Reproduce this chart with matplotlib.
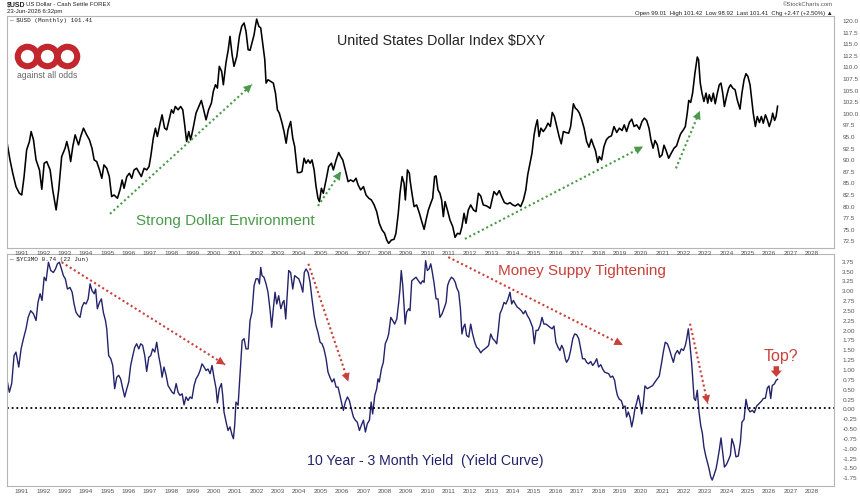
import matplotlib
matplotlib.use('Agg')
import matplotlib.pyplot as plt
from matplotlib.ticker import FormatStrFormatter

# US Dollar Index, monthly (decimal year, close)
dxy_t = [1990.33, 1990.45, 1990.58, 1990.73, 1990.89, 1991.0, 1991.11, 1991.23, 1991.36, 1991.44, 1991.55,
         1991.67, 1991.83, 1991.94, 1992.05, 1992.17, 1992.33, 1992.45, 1992.61, 1992.73, 1992.87, 1993.03,
         1993.11, 1993.22, 1993.29, 1993.39, 1993.5, 1993.66, 1993.76, 1993.89, 1994.04, 1994.17, 1994.29,
         1994.39, 1994.51, 1994.64, 1994.75, 1994.85, 1994.98, 1995.1, 1995.21, 1995.32, 1995.48, 1995.6,
         1995.7, 1995.79, 1995.92, 1996.04, 1996.15, 1996.26, 1996.38, 1996.51, 1996.6, 1996.73, 1996.85,
         1996.96, 1997.04, 1997.16, 1997.26, 1997.35, 1997.48, 1997.57, 1997.69, 1997.79, 1997.88, 1998.01,
         1998.1, 1998.19, 1998.32, 1998.44, 1998.54, 1998.62, 1998.72, 1998.82, 1998.91, 1999.04, 1999.16,
         1999.29, 1999.41, 1999.5, 1999.63, 1999.75, 1999.88, 1999.97, 2000.07, 2000.16, 2000.25, 2000.36,
         2000.44, 2000.56, 2000.67, 2000.75, 2000.85, 2000.94, 2001.07, 2001.19, 2001.3, 2001.41, 2001.5,
         2001.6, 2001.69, 2001.78, 2001.88, 2001.94, 2002.0, 2002.1, 2002.19, 2002.28, 2002.38, 2002.44,
         2002.53, 2002.66, 2002.78, 2002.88, 2002.97, 2003.06, 2003.19, 2003.28, 2003.38, 2003.47, 2003.59,
         2003.69, 2003.78, 2003.91, 2004.03, 2004.12, 2004.22, 2004.31, 2004.41, 2004.5, 2004.59, 2004.69,
         2004.78, 2004.87, 2004.94, 2005.03, 2005.12, 2005.25, 2005.37, 2005.5, 2005.59, 2005.72, 2005.84,
         2005.93, 2006.03, 2006.15, 2006.28, 2006.4, 2006.53, 2006.65, 2006.75, 2006.87, 2007.0, 2007.12,
         2007.25, 2007.37, 2007.5, 2007.62, 2007.74, 2007.87, 2007.99, 2008.09, 2008.18, 2008.31, 2008.43,
         2008.52, 2008.63, 2008.71, 2008.81, 2008.9, 2008.96, 2009.06, 2009.15, 2009.18, 2009.27, 2009.37,
         2009.49, 2009.62, 2009.73, 2009.84, 2009.93, 2010.04, 2010.15, 2010.24, 2010.33, 2010.4, 2010.49,
         2010.58, 2010.66, 2010.74, 2010.82, 2010.93, 2011.05, 2011.18, 2011.29, 2011.4, 2011.52, 2011.61,
         2011.71, 2011.8, 2011.91, 2012.02, 2012.15, 2012.27, 2012.38, 2012.49, 2012.61, 2012.77, 2012.93,
         2013.02, 2013.11, 2013.24, 2013.36, 2013.47, 2013.6, 2013.74, 2013.86, 2013.99, 2014.11, 2014.24,
         2014.36, 2014.49, 2014.6, 2014.69, 2014.8, 2014.89, 2014.99, 2015.06, 2015.14, 2015.22, 2015.31,
         2015.42, 2015.53, 2015.64, 2015.75, 2015.84, 2015.94, 2016.05, 2016.16, 2016.26, 2016.36, 2016.48,
         2016.61, 2016.7, 2016.83, 2016.92, 2017.01, 2017.11, 2017.22, 2017.33, 2017.45, 2017.56, 2017.67,
         2017.76, 2017.86, 2017.97, 2018.04, 2018.15, 2018.26, 2018.37, 2018.48, 2018.61, 2018.73, 2018.86,
         2018.98, 2019.11, 2019.21, 2019.32, 2019.45, 2019.56, 2019.67, 2019.79, 2019.92, 2020.04, 2020.15,
         2020.26, 2020.37, 2020.46, 2020.56, 2020.65, 2020.76, 2020.87, 2020.98, 2021.07, 2021.17, 2021.29,
         2021.41, 2021.54, 2021.66, 2021.76, 2021.85, 2021.98, 2022.07, 2022.16, 2022.23, 2022.32, 2022.41,
         2022.52, 2022.63, 2022.69, 2022.77, 2022.85, 2022.94, 2023.04, 2023.12, 2023.19, 2023.29, 2023.38,
         2023.47, 2023.57, 2023.66, 2023.74, 2023.82, 2023.9, 2024.0, 2024.1, 2024.19, 2024.29, 2024.4,
         2024.5, 2024.63, 2024.72, 2024.82, 2024.91, 2025.0, 2025.1, 2025.18, 2025.25, 2025.35, 2025.44,
         2025.54, 2025.63, 2025.72, 2025.82, 2025.91, 2026.0, 2026.1, 2026.16, 2026.25, 2026.32, 2026.39]
dxy_v = [93.07, 89.83, 86.95, 84.07, 82.63, 82.27, 86.24, 92.0, 93.79, 95.95, 94.15,
         89.83, 87.67, 83.5, 89.1, 89.47, 87.67, 83.35, 79.04, 83.35, 90.55, 92.35,
         93.79, 91.63, 89.47, 92.71, 95.23, 93.07, 94.87, 96.67, 95.23, 94.15, 92.35,
         89.83, 89.47, 87.67, 85.87, 88.75, 88.03, 86.24, 81.92, 82.27, 81.56, 83.35,
         85.51, 83.71, 86.24, 86.95, 85.87, 87.67, 88.03, 86.95, 86.24, 88.03, 87.67,
         88.39, 90.55, 94.51, 96.67, 94.87, 97.75, 99.55, 96.67, 96.31, 98.11, 100.63,
         99.91, 101.35, 100.63, 101.35, 100.63, 97.75, 93.79, 95.95, 94.15, 97.03, 99.91,
         101.35, 102.65, 100.99, 98.47, 100.63, 102.07, 104.59, 106.03, 105.31, 110.0, 108.91,
         106.03, 110.71, 113.59, 116.47, 112.51, 110.0, 112.15, 116.47, 118.63, 119.35, 117.55,
         113.59, 113.45, 115.03, 116.83, 118.63, 120.2, 118.63, 118.27, 115.03, 111.43, 106.39,
         107.11, 106.75, 106.39, 104.23, 100.63, 99.91, 97.75, 95.95, 93.43, 96.31, 98.11,
         94.51, 92.71, 87.1, 87.1, 87.31, 90.19, 89.11, 89.83, 89.11, 89.83, 87.67,
         84.07, 81.56, 80.84, 83.71, 82.63, 85.51, 88.39, 89.11, 87.67, 89.83, 91.42,
         90.55, 89.83, 87.67, 85.15, 85.51, 85.15, 85.87, 84.43, 83.35, 84.07, 82.27,
         81.56, 81.2, 80.12, 78.68, 76.16, 74.72, 74.0, 72.56, 71.84, 72.56, 72.7,
         74.0, 78.32, 82.63, 86.24, 84.79, 81.2, 87.67, 86.95, 85.51, 82.63, 79.76,
         80.12, 78.32, 76.52, 74.86, 76.88, 79.04, 80.48, 81.56, 86.24, 86.38, 83.35,
         82.63, 81.2, 77.6, 80.84, 79.04, 76.88, 75.44, 73.13, 74.0, 73.85, 75.44,
         78.32, 76.16, 79.04, 80.12, 79.04, 78.68, 82.63, 82.06, 80.12, 79.9, 79.4,
         81.2, 83.0, 82.27, 83.21, 81.92, 80.62, 80.33, 80.62, 80.12, 79.9, 80.33,
         79.76, 81.2, 83.35, 86.6, 89.11, 91.27, 95.23, 97.03, 98.47, 94.87, 96.67,
         95.95, 96.67, 97.75, 97.03, 100.06, 99.19, 97.03, 94.87, 93.29, 95.95, 95.74,
         95.59, 97.03, 101.93, 100.99, 100.63, 99.91, 98.47, 96.67, 93.79, 92.57, 94.3,
         93.07, 91.85, 89.26, 90.55, 89.83, 92.71, 94.15, 94.73, 95.02, 97.03, 95.74,
         96.67, 96.17, 97.39, 95.95, 97.9, 98.62, 97.03, 97.39, 96.46, 98.11, 98.83,
         98.33, 96.67, 94.15, 92.35, 94.01, 93.07, 90.41, 90.91, 93.0, 91.85, 90.19,
         91.27, 92.35, 92.86, 94.3, 95.45, 96.31, 97.03, 99.91, 102.65, 102.22, 104.23,
         108.55, 112.01, 111.43, 106.39, 104.23, 102.43, 104.23, 102.07, 103.87, 102.43, 104.23,
         101.93, 104.23, 106.03, 106.39, 104.23, 101.35, 103.51, 105.31, 106.03, 105.31, 104.95,
         102.79, 100.78, 104.23, 107.11, 108.41, 107.83, 106.03, 102.79, 99.91, 97.03, 99.19,
         97.9, 99.19, 97.75, 99.55, 98.47, 97.03, 98.47, 99.91, 98.33, 99.19, 101.41]

# 10 year minus 3 month yield spread (decimal year, %)
yc_t = [1990.33, 1990.42, 1990.53, 1990.64, 1990.73, 1990.86, 1990.97, 1991.08, 1991.2, 1991.3, 1991.42,
        1991.55, 1991.67, 1991.76, 1991.86, 1991.95, 1992.05, 1992.14, 1992.25, 1992.36, 1992.48, 1992.58,
        1992.67, 1992.76, 1992.86, 1992.95, 1993.04, 1993.14, 1993.26, 1993.36, 1993.45, 1993.54, 1993.64,
        1993.73, 1993.82, 1993.92, 1994.01, 1994.11, 1994.2, 1994.29, 1994.39, 1994.46, 1994.54, 1994.64,
        1994.73, 1994.82, 1994.92, 1994.98, 1995.07, 1995.17, 1995.26, 1995.35, 1995.45, 1995.54, 1995.63,
        1995.73, 1995.82, 1995.92, 1996.01, 1996.1, 1996.2, 1996.29, 1996.38, 1996.48, 1996.57, 1996.66,
        1996.76, 1996.85, 1996.95, 1997.04, 1997.13, 1997.23, 1997.32, 1997.41, 1997.51, 1997.57, 1997.66,
        1997.76, 1997.85, 1997.94, 1998.04, 1998.13, 1998.23, 1998.32, 1998.41, 1998.51, 1998.6, 1998.69,
        1998.79, 1998.88, 1998.97, 1999.07, 1999.16, 1999.26, 1999.35, 1999.44, 1999.54, 1999.63, 1999.72,
        1999.82, 1999.91, 2000.0, 2000.1, 2000.16, 2000.25, 2000.35, 2000.41, 2000.47, 2000.57, 2000.66,
        2000.75, 2000.85, 2000.91, 2000.97, 2001.03, 2001.13, 2001.22, 2001.32, 2001.41, 2001.5, 2001.6,
        2001.69, 2001.78, 2001.88, 2001.97, 2002.06, 2002.13, 2002.19, 2002.25, 2002.34, 2002.44, 2002.53,
        2002.63, 2002.7, 2002.78, 2002.86, 2002.94, 2003.03, 2003.13, 2003.22, 2003.28, 2003.36, 2003.44,
        2003.5, 2003.59, 2003.69, 2003.78, 2003.87, 2003.97, 2004.06, 2004.16, 2004.23, 2004.31, 2004.41,
        2004.5, 2004.59, 2004.69, 2004.78, 2004.87, 2004.97, 2005.06, 2005.15, 2005.25, 2005.34, 2005.43,
        2005.53, 2005.62, 2005.72, 2005.81, 2005.9, 2006.0, 2006.06, 2006.15, 2006.25, 2006.34, 2006.43,
        2006.53, 2006.62, 2006.71, 2006.81, 2006.9, 2007.0, 2007.09, 2007.18, 2007.28, 2007.36, 2007.43,
        2007.53, 2007.62, 2007.68, 2007.74, 2007.84, 2007.93, 2008.02, 2008.12, 2008.18, 2008.28, 2008.37,
        2008.46, 2008.56, 2008.65, 2008.71, 2008.77, 2008.84, 2008.9, 2008.95, 2009.02, 2009.12, 2009.18,
        2009.26, 2009.37, 2009.46, 2009.57, 2009.68, 2009.77, 2009.84, 2009.91, 2009.99, 2010.07, 2010.15,
        2010.21, 2010.3, 2010.4, 2010.49, 2010.58, 2010.68, 2010.77, 2010.87, 2010.94, 2011.02, 2011.12,
        2011.21, 2011.3, 2011.36, 2011.46, 2011.54, 2011.61, 2011.68, 2011.75, 2011.83, 2011.93, 2012.02,
        2012.11, 2012.21, 2012.3, 2012.39, 2012.49, 2012.58, 2012.68, 2012.77, 2012.86, 2012.96, 2013.05,
        2013.14, 2013.24, 2013.32, 2013.39, 2013.49, 2013.58, 2013.67, 2013.77, 2013.86, 2013.94, 2014.02,
        2014.11, 2014.2, 2014.3, 2014.39, 2014.49, 2014.58, 2014.67, 2014.77, 2014.86, 2014.92, 2015.0,
        2015.08, 2015.17, 2015.27, 2015.36, 2015.45, 2015.55, 2015.64, 2015.73, 2015.83, 2015.92, 2016.01,
        2016.11, 2016.2, 2016.28, 2016.36, 2016.45, 2016.51, 2016.61, 2016.7, 2016.8, 2016.89, 2016.98,
        2017.08, 2017.17, 2017.26, 2017.36, 2017.45, 2017.54, 2017.64, 2017.73, 2017.83, 2017.92, 2018.01,
        2018.11, 2018.2, 2018.29, 2018.39, 2018.48, 2018.57, 2018.67, 2018.76, 2018.82, 2018.89, 2018.98,
        2019.07, 2019.17, 2019.25, 2019.32, 2019.4, 2019.48, 2019.56, 2019.64, 2019.71, 2019.79, 2019.87,
        2019.95, 2020.03, 2020.1, 2020.18, 2020.29, 2020.42, 2020.54, 2020.65, 2020.76, 2020.85, 2020.95,
        2021.04, 2021.13, 2021.23, 2021.32, 2021.41, 2021.51, 2021.6, 2021.7, 2021.79, 2021.88, 2021.98,
        2022.07, 2022.13, 2022.21, 2022.29, 2022.37, 2022.43, 2022.48, 2022.55, 2022.63, 2022.71, 2022.79,
        2022.87, 2022.94, 2023.02, 2023.1, 2023.18, 2023.26, 2023.33, 2023.41, 2023.51, 2023.58, 2023.66,
        2023.74, 2023.82, 2023.9, 2023.99, 2024.08, 2024.18, 2024.25, 2024.35, 2024.44, 2024.55, 2024.65,
        2024.72, 2024.82, 2024.91, 2024.99, 2025.1, 2025.21, 2025.3, 2025.41, 2025.52, 2025.63, 2025.72,
        2025.82, 2025.91, 2025.99, 2026.07, 2026.14, 2026.24, 2026.32, 2026.39]
yc_v = [0.67, 0.41, 0.63, 1.34, 1.43, 1.05, 1.51, 1.77, 2.02, 2.31, 2.48,
        2.4, 2.23, 2.69, 2.91, 2.74, 3.33, 3.24, 3.71, 3.5, 3.45, 3.54,
        3.67, 3.71, 3.54, 3.37, 3.29, 3.03, 3.07, 2.95, 2.65, 2.44, 2.36,
        2.31, 2.57, 2.69, 2.65, 2.78, 3.16, 2.99, 2.91, 3.03, 2.53, 2.69,
        2.78, 2.44, 2.23, 2.02, 1.34, 1.26, 1.09, 0.5, 0.79, 0.84, 0.75,
        0.5, 0.29, 0.5, 0.67, 1.09, 1.34, 1.55, 1.64, 1.51, 1.64, 1.6,
        1.34, 0.94, 1.3, 1.34, 1.51, 1.43, 1.68, 1.34, 1.05, 0.79, 1.05,
        0.84, 0.58, 0.5, 0.41, 0.37, 0.63, 0.41, 0.33, 0.37, 0.09, 0.29,
        0.2, 0.29, 0.25, 0.58, 0.75, 0.84, 0.96, 1.13, 1.05, 0.96, 1.0,
        0.88, 1.09, 0.79, 0.5, 0.14, 0.5, 0.63, 0.33, -0.09, -0.35, -0.56,
        -0.47, -0.68, -0.77, -0.43, 0.16, 0.08, 0.84, 1.72, 1.77, 1.51, 1.51,
        2.23, 2.44, 3.12, 3.29, 3.29, 3.16, 3.58, 3.37, 3.33, 3.16, 2.95,
        2.48, 2.06, 2.53, 2.95, 2.65, 2.86, 2.53, 2.69, 2.74, 2.27, 2.95,
        3.5, 3.45, 3.03, 3.37, 3.33, 3.29, 3.16, 2.95, 3.45, 3.54, 3.45,
        3.2, 2.78, 2.36, 2.1, 1.93, 1.68, 1.64, 1.51, 1.26, 0.92, 0.79,
        0.67, 0.75, 0.54, 0.54, 0.33, 0.08, -0.05, 0.16, 0.29, 0.2, -0.01,
        -0.22, -0.3, -0.35, -0.56, -0.43, -0.3, -0.6, -0.39, -0.3, 0.16, -0.14,
        0.33, 0.5, 0.75, 0.67, 1.0, 1.17, 1.64, 1.77, 1.89, 2.31, 2.23,
        2.14, 2.27, 2.69, 3.03, 3.5, 3.12, 2.61, 2.14, 2.44, 2.53, 2.48,
        3.24, 3.29, 3.33, 3.24, 3.16, 3.24, 3.2, 3.75, 3.5, 3.54, 3.67,
        3.5, 3.2, 2.78, 2.78, 2.31, 2.4, 2.53, 2.69, 3.12, 3.24, 3.33,
        3.29, 3.2, 3.07, 2.95, 2.53, 1.89, 2.06, 2.14, 1.85, 1.81, 2.14,
        1.89, 1.68, 1.55, 1.51, 1.41, 1.47, 1.51, 1.55, 1.6, 1.89, 1.77,
        1.72, 1.64, 2.02, 2.4, 2.53, 2.69, 2.65, 2.78, 2.95, 2.65, 2.74,
        2.65, 2.57, 2.53, 2.48, 2.4, 2.48, 2.36, 2.27, 2.14, 2.06, 1.64,
        1.98, 1.98, 2.1, 2.31, 2.14, 2.14, 2.1, 2.06, 2.02, 2.09, 1.68,
        1.55, 1.47, 1.6, 1.51, 1.26, 1.17, 1.26, 1.47, 1.77, 1.89, 1.87,
        1.77, 1.51, 1.26, 1.26, 1.17, 1.13, 1.19, 1.09, 1.16, 1.26, 1.05,
        1.11, 1.0, 0.92, 0.9, 0.88, 0.79, 0.82, 0.71, 0.5, 0.33, 0.23,
        0.2, 0.03, 0.06, -0.22, -0.09, -0.22, -0.47, -0.26, -0.01, 0.14, 0.33,
        0.12, -0.14, 0.12, 0.57, 0.5, 0.54, 0.58, 0.67, 0.75, 0.82, 1.13,
        1.43, 1.68, 1.64, 1.51, 1.34, 1.17, 1.38, 1.47, 1.38, 1.51, 1.47,
        1.6, 1.75, 2.02, 1.6, 1.13, 0.67, 0.25, 0.2, 0.46, -0.09, -0.43,
        -0.64, -0.98, -1.19, -1.36, -1.53, -1.74, -1.82, -1.7, -1.53, -1.32, -1.06,
        -0.75, -1.11, -1.49, -1.43, -1.32, -1.19, -0.77, -0.94, -1.23, -1.21, -0.85,
        -0.35, -0.28, 0.23, 0.01, -0.09, -0.05, -0.11, 0.06, 0.12, 0.18, 0.25,
        0.26, 0.52, 0.57, 0.25, 0.58, 0.62, 0.71, 0.74]

years = list(range(1991, 2029))
dxy_ticks = [72.5 + 2.5 * i for i in range(20)]
yc_ticks = [-1.75 + 0.25 * i for i in range(23)]

# annotation arrows: (start, end) in (year, value)
green_arrows = [((1995.13, 78.2), (2001.78, 106.1)),
                ((2004.87, 79.9), (2005.95, 87.3)),
                ((2011.75, 72.8), (2020.09, 92.7)),
                ((2021.63, 88.0), (2022.75, 100.4))]
red_arrows = [((1992.87, 3.71), (2000.52, 1.11)),
              ((2004.42, 3.67), (2006.29, 0.68)),
              ((2010.97, 3.84), (2019.14, 1.61)),
              ((2022.29, 2.15), (2023.12, 0.12))]

GREEN = '#4b9a4b'
RED = '#c9403a'
NAVY = '#23236b'
GREY = '#555555'
FONT = ['Liberation Sans', 'DejaVu Sans']
plt.rcParams['font.family'] = FONT

fig = plt.figure(figsize=(8.6, 5.02), dpi=100)
ax2 = fig.add_axes([0.00814, 0.0299, 0.9616, 0.4622])
ax1 = fig.add_axes([0.00814, 0.504, 0.9616, 0.4622])
ax1.set_zorder(3)


def px(x, y):
    return x / 860, 1 - y / 502


def dotted_arrow(ax, a, b, color):
    ax.plot([a[0], b[0]], [a[1], b[1]], color=color, lw=1.5, ls=(0, (1, 1.3)))
    back = (b[0] - 0.03 * (b[0] - a[0]), b[1] - 0.03 * (b[1] - a[1]))
    ax.annotate('', xy=b, xytext=back,
                arrowprops=dict(arrowstyle='-|>,head_length=0.6,head_width=0.3',
                                color=color, lw=0, shrinkA=0, shrinkB=0))


for ax in (ax1, ax2):
    ax.set_xlim(1990.31, 2029.03)
    ax.set_xticks(years)
    ax.set_xticklabels([str(y) for y in years])
    ax.yaxis.tick_right()
    ax.tick_params(axis='both', length=0, labelsize=4.6, labelcolor=GREY)
    ax.tick_params(axis='x', pad=1.2)
    ax.tick_params(axis='y', pad=6)
    for s in ax.spines.values():
        s.set_color('#b5b5b5')
        s.set_linewidth(0.8)

ax1.plot(dxy_t, dxy_v, color='black', lw=1.15)
ax1.set_ylim(70.84, 120.86)
ax1.set_yticks(dxy_ticks)
ax1.yaxis.set_major_formatter(FormatStrFormatter('%.1f'))

ax2.plot(yc_t, yc_v, color=NAVY, lw=1.0)
ax2.axhline(0, color='black', lw=1.3, ls=(0, (1, 1.6)))
ax2.set_ylim(-1.97, 3.92)
ax2.set_yticks(yc_ticks)
ax2.yaxis.set_major_formatter(FormatStrFormatter('%.2f'))

for (a, b) in green_arrows:
    dotted_arrow(ax1, a, b, GREEN)
for (a, b) in red_arrows:
    dotted_arrow(ax2, a, b, RED)
ax2.annotate('', xy=(2026.33, 0.8), xytext=(2026.33, 1.07),
             arrowprops=dict(arrowstyle='simple,head_length=0.45,head_width=0.8,tail_width=0.4',
                             color=RED, lw=0, shrinkA=0, shrinkB=0))

# texts
fig.text(*px(441.5, 41), 'United States Dollar Index $DXY', fontsize=10.3, color='#222222',
         ha='center', va='center', zorder=5)
fig.text(*px(225.5, 221), 'Strong Dollar Environment', fontsize=11, color=GREEN,
         ha='center', va='center', zorder=5)
fig.text(*px(582, 271), 'Money Suppy Tightening', fontsize=11, color=RED,
         ha='center', va='center', zorder=5)
fig.text(*px(425, 461), '10 Year - 3 Month Yield  (Yield Curve)', fontsize=10.2, color=NAVY,
         ha='center', va='center', zorder=5)
fig.text(*px(780.5, 357), 'Top?', fontsize=11.5, color=RED, ha='center', va='center', zorder=5)

# logo
for lx in (27, 47, 67):
    fig.lines.append(plt.Line2D([lx / 860], [1 - 57 / 502], transform=fig.transFigure,
                                marker='o', ms=14, mew=4.4, mec='#c1272d', mfc='white',
                                zorder=6))
fig.text(*px(47.5, 75), 'against all odds', fontsize=6.2, color='#666666', ha='center',
         va='center', zorder=6)

# header and legends
fig.text(*px(7, 5), '$USD', fontsize=5, fontweight='bold', color='#222222', va='center')
fig.text(*px(26, 5), 'US Dollar - Cash Settle FOREX', fontsize=4.3, color='#222222', va='center')
fig.text(*px(7, 12), '23-Jun-2026 6:32pm', fontsize=4.3, color='#222222', va='center')
fig.text(*px(833, 4.5), '\u00a9StockCharts.com', fontsize=4.3, color=GREY, ha='right', va='center')
fig.text(*px(833, 13), 'Open 99.01  High 101.42  Low 98.92  Last 101.41  Chg +2.47 (+2.50%) \u25b2',
         fontsize=4.3, color='#222222', ha='right', va='center', family=FONT)
fig.text(*px(9, 20.5), '\u2014 $USD (Monthly) 101.41', fontsize=4.3, color='#222222',
         va='center', family=['Liberation Mono', 'DejaVu Sans Mono'], zorder=6)
fig.text(*px(9, 259.5), '\u2014 $YC3MO 0.74 (22 Jun)', fontsize=4.3, color='#222222',
         va='center', family=['Liberation Mono', 'DejaVu Sans Mono'], zorder=6)

fig.savefig('out.png', dpi=100)
